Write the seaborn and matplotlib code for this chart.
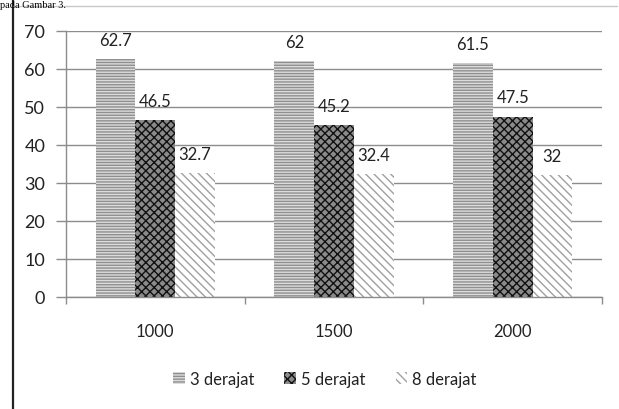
import matplotlib
matplotlib.use("Agg")
import matplotlib.pyplot as plt
import seaborn as sns
import pandas as pd
from matplotlib.patches import Patch
from matplotlib.lines import Line2D
from matplotlib.ticker import FixedLocator

sns.set_theme(style="white")
plt.rcParams["font.family"] = ["Lato", "DejaVu Sans"]
plt.rcParams["hatch.linewidth"] = 1.0

# Data
speeds = ["1000", "1500", "2000"]
series = ["3 derajat", "5 derajat", "8 derajat"]
deg3 = [62.7, 62, 61.5]
deg5 = [46.5, 45.2, 47.5]
deg8 = [32.7, 32.4, 32]
yticks = [0, 10, 20, 30, 40, 50, 60, 70]

df = pd.DataFrame({
    "speed": speeds * 3,
    "series": [s for s in series for _ in speeds],
    "value": deg3 + deg5 + deg8,
})

# Fill patterns for each series
styles = {
    "3 derajat": dict(face="#dcdcdc", edge="#8f8f8f", hatch="------"),
    "5 derajat": dict(face="#8a8a8a", edge="#111111", hatch="xxxx"),
    "8 derajat": dict(face="white", edge="#a0a0a0", hatch="\\\\\\\\"),
}

W, H = 619, 410
fig = plt.figure(figsize=(W / 100, H / 100), dpi=100)
ax = fig.add_axes([66 / W, 1 - 298 / H, (602 - 66) / W, (298 - 32) / H])

sns.barplot(data=df, x="speed", y="value", hue="series", order=speeds,
            hue_order=series, width=0.667, ax=ax, legend=False,
            palette=["white"] * 3, saturation=1, linewidth=0)

for cont, s in zip(ax.containers, series):
    st = styles[s]
    for p in cont:
        p.set_facecolor(st["face"])
        p.set_edgecolor(st["edge"])
        p.set_hatch(st["hatch"])
        p.set_linewidth(0)
    ax.bar_label(cont, fmt="%g", padding=8, fontsize=12, color="#222222")

grid_c = "#8c8c8c"
ax.set_ylim(0, 70)
ax.set_yticks(yticks)
ax.set_xlim(-0.5, 2.5)
ax.yaxis.grid(True, color=grid_c, lw=1)
ax.set_axisbelow(True)
ax.set_xlabel("")
ax.set_ylabel("")

ax.tick_params(axis="x", which="major", length=0, pad=19, labelsize=12,
               labelcolor="#222222", bottom=True)
ax.xaxis.set_minor_locator(FixedLocator([-0.5, 0.5, 1.5, 2.5]))
ax.tick_params(axis="x", which="minor", length=5, width=1, color=grid_c,
               direction="out", bottom=True)
ax.tick_params(axis="y", length=7, width=1, color=grid_c, direction="out",
               pad=8, labelsize=13, labelcolor="#222222", left=True)

for side in ["top", "right"]:
    ax.spines[side].set_visible(False)
for side in ["left", "bottom"]:
    ax.spines[side].set_color(grid_c)
    ax.spines[side].set_linewidth(1)

handles = [Patch(facecolor=styles[s]["face"], edgecolor=styles[s]["edge"],
                 hatch=styles[s]["hatch"], linewidth=0, label=s) for s in series]
fig.legend(handles=handles, loc="center", bbox_to_anchor=(325 / W, 1 - 380 / H),
           ncol=3, frameon=False, fontsize=12, handlelength=0.7,
           handleheight=0.7, handletextpad=0.3, columnspacing=1.8,
           labelcolor="#222222")

# Chart frame
fig.add_artist(Line2D([12.5 / W, 12.5 / W], [0, 1], color="#222222", lw=1.6))
fig.add_artist(Line2D([12.5 / W, 617 / W], [1 - 7 / H, 1 - 7 / H],
                      color="#c8c8c8", lw=1))

# Caption line of the surrounding page
fig.text(0.5 / W, 1 - 8.5 / H, "pada Gambar 3.", family="Liberation Serif",
         fontsize=7.5, va="baseline", ha="left", color="black")

fig.savefig("out.png", dpi=100)
